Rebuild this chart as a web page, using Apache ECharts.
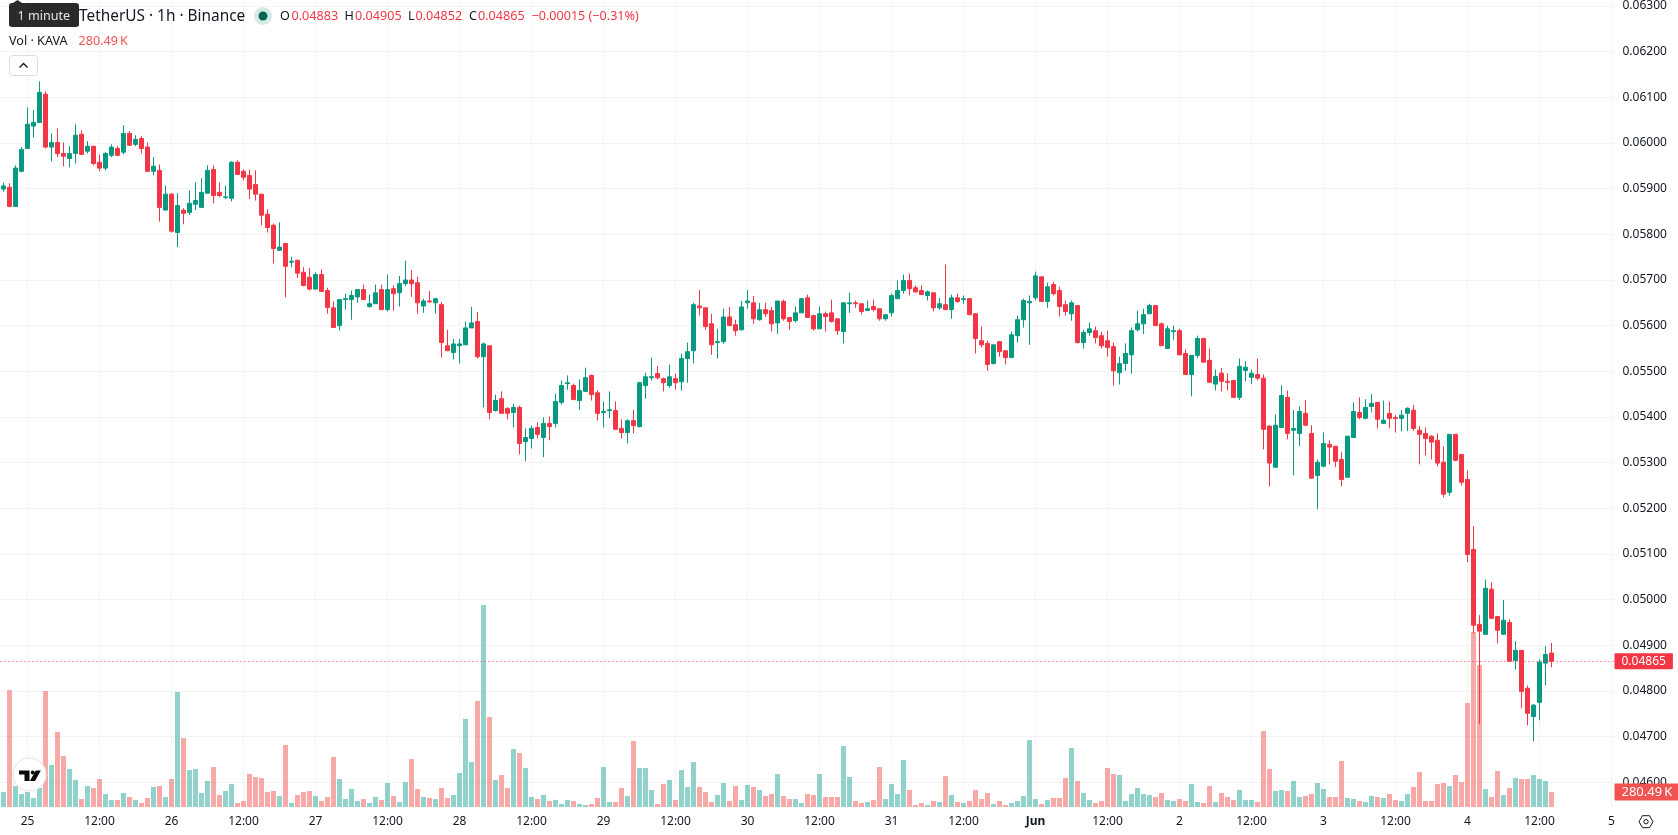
<!DOCTYPE html>
<html>
<head>
<meta charset="utf-8">
<title>KAVA / TetherUS 1h</title>
<style>
html,body{margin:0;padding:0;background:#fff;}
#chart{width:1678px;height:835px;}
</style>
<script src="https://cdn.jsdelivr.net/npm/echarts@6/dist/echarts.min.js"></script>
</head>
<body>
<div id="chart"></div>
<script>
// Hourly prices, quoted in units of 0.00001 USDT.
const opens = [
5899,5903,5861,5938,5988,6037,6045,6107,5991,6001,
5977,5966,5977,6019,5982,5993,5958,5945,5973,5988,
5980,6021,5997,6010,5991,5938,5940,5853,5888,5804,
5853,5848,5866,5859,5890,5942,5892,5881,5879,5958,
5938,5929,5909,5888,5844,5820,5765,5780,5739,5743,
5717,5706,5680,5712,5677,5639,5600,5657,5657,5663,
5679,5642,5648,5679,5635,5681,5672,5692,5700,5694,
5643,5654,5650,5646,5556,5541,5556,5558,5595,5609,
5532,5556,5414,5440,5419,5410,5421,5346,5353,5377,
5355,5386,5386,5432,5473,5469,5436,5456,5491,5453,
5410,5414,5414,5375,5366,5392,5379,5469,5486,5495,
5484,5469,5484,5477,5528,5545,5643,5639,5604,5563,
5565,5619,5602,5591,5650,5650,5613,5635,5633,5606,
5653,5618,5611,5628,5661,5622,5593,5626,5628,5615,
5587,5648,5650,5648,5633,5642,5637,5615,5628,5659,
5677,5699,5683,5677,5666,5672,5639,5646,5635,5661,
5657,5659,5626,5567,5561,5517,5565,5545,5530,5578,
5613,5650,5661,5707,5653,5690,5677,5646,5626,5644,
5563,5585,5589,5578,5567,5554,5497,5517,5536,5591,
5604,5626,5644,5604,5550,5587,5589,5539,5493,5535,
5572,5524,5472,5496,5478,5480,5443,5502,5487,5493,
5485,5380,5290,5377,5443,5371,5364,5408,5364,5272,
5292,5340,5336,5307,5268,5355,5410,5397,5423,5432,
5386,5408,5399,5397,5408,5415,5371,5364,5358,5349,
5301,5235,5362,5318,5263,5110,4946,4924,5023,4963,
4924,4950,4867,4889,4806,4744,4775,4861,4883];
const highs = [
5913,5912,5951,5991,6078,6072,6135,6113,6021,6032,
6001,5993,6041,6028,6004,5993,5975,5980,5997,5993,
6039,6026,6017,6015,6001,5969,5953,5907,5890,5890,
5857,5896,5914,5923,5951,5951,5914,5907,5960,5962,
5942,5942,5940,5888,5855,5824,5826,5780,5751,5745,
5728,5726,5717,5723,5683,5653,5657,5670,5677,5679,
5690,5668,5690,5690,5712,5688,5709,5742,5722,5707,
5659,5676,5661,5652,5591,5571,5571,5609,5641,5630,
5563,5556,5449,5456,5421,5429,5425,5375,5381,5388,
5399,5401,5451,5480,5491,5473,5482,5508,5493,5458,
5434,5456,5434,5395,5395,5416,5477,5497,5530,5512,
5486,5515,5495,5539,5563,5650,5678,5639,5626,5593,
5637,5641,5613,5654,5678,5665,5650,5650,5641,5654,
5657,5618,5642,5661,5668,5624,5642,5631,5657,5615,
5650,5672,5655,5648,5655,5657,5637,5624,5670,5699,
5712,5714,5688,5688,5677,5672,5661,5734,5668,5670,
5666,5661,5626,5598,5567,5558,5565,5545,5587,5622,
5659,5666,5718,5707,5694,5696,5685,5655,5655,5644,
5591,5607,5598,5587,5589,5563,5532,5561,5596,5633,
5637,5648,5644,5607,5600,5600,5593,5548,5535,5578,
5572,5550,5504,5507,5496,5480,5528,5522,5504,5528,
5493,5382,5406,5469,5458,5415,5423,5437,5382,5307,
5366,5349,5336,5323,5358,5432,5443,5439,5450,5432,
5436,5434,5404,5415,5421,5426,5380,5377,5360,5364,
5336,5362,5362,5318,5283,5161,4966,5044,5038,4963,
4999,4957,4909,4889,4812,4771,4869,4898,4905];
const lows = [
5893,5861,5861,5936,5988,6012,6045,5988,5960,5969,
5949,5947,5955,5975,5977,5951,5938,5940,5969,5971,
5975,5995,5993,5977,5936,5929,5828,5853,5804,5772,
5822,5842,5853,5859,5890,5868,5881,5877,5872,5931,
5918,5877,5874,5820,5804,5736,5765,5662,5728,5704,
5686,5677,5680,5675,5626,5596,5589,5635,5613,5650,
5657,5639,5648,5635,5631,5633,5642,5687,5663,5626,
5628,5650,5626,5530,5545,5526,5517,5558,5595,5528,
5421,5395,5412,5408,5395,5377,5318,5303,5331,5353,
5312,5349,5377,5427,5460,5438,5416,5456,5436,5392,
5377,5397,5373,5353,5342,5364,5377,5440,5480,5482,
5456,5464,5460,5458,5475,5517,5622,5591,5536,5528,
5560,5600,5578,5589,5637,5604,5611,5619,5587,5582,
5611,5591,5607,5628,5618,5589,5593,5587,5607,5580,
5561,5628,5639,5624,5633,5631,5611,5611,5620,5659,
5670,5666,5672,5668,5655,5631,5635,5635,5615,5650,
5648,5624,5539,5552,5501,5515,5532,5515,5530,5563,
5596,5558,5655,5653,5639,5666,5620,5622,5611,5561,
5550,5578,5561,5550,5532,5469,5471,5501,5495,5587,
5582,5626,5600,5556,5550,5569,5536,5493,5445,5529,
5520,5476,5458,5456,5458,5443,5437,5478,5472,5480,
5329,5248,5290,5377,5351,5272,5336,5380,5266,5198,
5292,5296,5290,5248,5268,5355,5395,5395,5410,5375,
5386,5375,5366,5369,5369,5369,5296,5316,5307,5292,
5224,5228,5303,5250,5082,4926,4727,4924,4959,4904,
4924,4865,4847,4762,4725,4690,4736,4812,4852];
const closes = [
5906,5861,5945,5986,6041,6045,6111,5991,6001,5977,
5971,5977,6017,5975,5993,5955,5945,5977,5991,5973,
6021,5995,6008,5988,5938,5949,5859,5888,5807,5863,
5846,5868,5874,5892,5940,5885,5885,5882,5958,5931,
5925,5899,5888,5842,5815,5769,5772,5730,5741,5715,
5688,5680,5712,5675,5640,5596,5657,5659,5666,5679,
5657,5648,5672,5635,5679,5670,5692,5700,5692,5650,
5654,5652,5659,5563,5545,5560,5560,5595,5606,5532,
5560,5410,5436,5408,5408,5421,5342,5355,5375,5362,
5386,5379,5434,5469,5475,5438,5458,5486,5449,5408,
5412,5416,5373,5366,5392,5381,5475,5488,5488,5486,
5475,5488,5475,5528,5543,5646,5639,5598,5558,5565,
5619,5600,5589,5641,5654,5615,5635,5626,5604,5654,
5615,5609,5628,5659,5618,5593,5626,5620,5609,5589,
5650,5650,5648,5631,5637,5635,5615,5624,5666,5677,
5699,5681,5674,5668,5674,5639,5648,5635,5661,5653,
5659,5624,5572,5558,5515,5558,5543,5530,5580,5613,
5655,5653,5709,5653,5685,5670,5642,5631,5650,5563,
5585,5593,5574,5556,5552,5501,5517,5539,5589,5604,
5624,5644,5600,5556,5593,5589,5536,5493,5535,5572,
5520,5476,5489,5478,5476,5443,5511,5509,5496,5485,
5373,5299,5382,5447,5364,5375,5412,5382,5266,5301,
5342,5334,5303,5263,5358,5412,5399,5421,5430,5395,
5393,5397,5397,5404,5419,5375,5362,5353,5345,5299,
5231,5362,5305,5257,5099,4944,4931,5025,4959,4933,
4955,4865,4889,4799,4751,4769,4863,4880,4865];
// Hourly traded volume in thousands of KAVA.
const volumes = [
280,2188,393,243,280,168,355,2169,785,1402,
954,711,505,150,393,355,524,243,131,131,
262,187,131,75,168,374,393,187,524,2150,
1290,692,711,262,486,748,224,299,430,75,
112,617,561,542,280,299,206,1159,75,224,
280,299,206,112,187,935,524,150,337,112,
150,75,187,131,449,206,93,467,898,337,
187,168,150,355,168,224,636,1646,841,1982,
3777,1683,505,598,355,1085,1010,729,187,150,
224,112,131,56,131,112,56,37,56,168,
748,93,93,355,206,1234,729,729,318,56,
430,505,131,692,374,841,374,280,93,224,
449,112,393,131,411,374,318,206,243,617,
206,150,150,75,243,224,617,187,187,187,
1141,561,112,75,93,131,748,150,430,243,
879,318,37,75,37,112,93,580,224,93,
75,112,318,150,262,56,112,37,75,112,
206,1253,150,56,131,168,168,542,1103,486,
262,131,75,112,729,617,598,112,243,355,
243,224,187,262,131,112,150,112,430,93,
75,393,93,262,187,131,318,131,131,93,
1421,711,299,318,299,486,187,206,243,449,
337,187,187,860,168,150,112,93,206,187,
168,243,131,112,243,374,654,112,112,430,
449,393,598,467,1945,3272,2655,337,187,673,
224,355,542,524,524,598,524,486,280.49];
// Time-axis labels, one per midnight from 25 May to 5 June.
const dayLabels = ['25','26','27','28','29','30','31','Jun','2','3','4','5'];
const noonLabel = '12:00';
const firstMidnight = 4;
const slotCount = 269;
const lastPrice = 0.04865;
const lastVolume = 280.49;

const UP = '#089981', DOWN = '#F23645';
const VOL_UP = 'rgba(38,166,154,0.5)', VOL_DOWN = 'rgba(239,83,80,0.5)';
const GRID = '#f2f3f3', INK = '#131722', FONT = '"Noto Sans", sans-serif';

const categories = [];
for (let k = 0; k < slotCount; k++) {
  const h = k - firstMidnight;
  if (h >= 0 && h % 24 === 0) categories.push(dayLabels[h / 24]);
  else if (h >= 0 && h % 24 === 12) categories.push(noonLabel);
  else categories.push('');
}
const labelled = (i, v) => v !== '';
const price = v => v / 100000;
const candleData = opens.map((o, i) => [price(o), price(closes[i]), price(lows[i]), price(highs[i])]);
const volumeData = volumes.map((v, i) => ({
  value: v,
  itemStyle: { color: closes[i] >= opens[i] ? VOL_UP : VOL_DOWN }
}));

const txt = (text, x, y, fill, size, extra) => Object.assign({
  type: 'text', z: 100, silent: true,
  style: { text, x, y, fill, font: `${size || 12.6}px ${FONT}`, verticalAlign: 'middle', align: 'left' }
}, extra || {});
const HEAD_Y = 16.8, VOL_Y = 41.2;

const overlay = [
  // hint bubble over the symbol title
  { type: 'polygon', z: 100, shape: { points: [[13, 3], [17.5, 0], [22, 3]] }, style: { fill: '#2a2a2a' } },
  { type: 'rect', z: 100, shape: { x: 9, y: 3, width: 70, height: 24, r: 3 }, style: { fill: '#2a2a2a' } },
  txt('1 minute', 17.5, 16.2, '#e6e6e6', 12.6),
  txt('TetherUS · 1h · Binance', 79, HEAD_Y, INK, 15.4),
  { type: 'circle', z: 100, shape: { cx: 263, cy: 16, r: 9 }, style: { fill: '#d5ebe6' } },
  { type: 'circle', z: 100, shape: { cx: 263, cy: 16, r: 4.5 }, style: { fill: '#056656' } },
  txt('O', 280, HEAD_Y, INK), txt('0.04883', 291.5, HEAD_Y, DOWN),
  txt('H', 344.5, HEAD_Y, INK), txt('0.04905', 355, HEAD_Y, DOWN),
  txt('L', 408, HEAD_Y, INK), txt('0.04852', 415.5, HEAD_Y, DOWN),
  txt('C', 469, HEAD_Y, INK), txt('0.04865', 478, HEAD_Y, DOWN),
  txt('\u22120.00015 (\u22120.31%)', 531.5, HEAD_Y, DOWN),
  txt('Vol · KAVA', 9, VOL_Y, INK),
  txt('280.49\u202fK', 78.5, VOL_Y, '#ef5350'),
  // collapse button
  { type: 'rect', z: 100, shape: { x: 9.5, y: 55.5, width: 28, height: 20, r: 3 },
    style: { fill: '#fff', stroke: '#dcdcdc', lineWidth: 1 } },
  { type: 'polyline', z: 100, shape: { points: [[19.5, 67.5], [23.5, 63.5], [27.5, 67.5]] },
    style: { fill: 'none', stroke: INK, lineWidth: 1.4 } },
  // watermark badge
  { type: 'circle', z: 100, shape: { cx: 29.5, cy: 774.5, r: 16.5 },
    style: { fill: '#fff', stroke: '#e6e6e6', lineWidth: 1.2 } },
  { type: 'polygon', z: 101, shape: { points: [[19, 770.5], [29.5, 770.5], [29.5, 781], [24.5, 781], [24.5, 774.5], [19, 774.5]] },
    style: { fill: '#0b0b0b' } },
  { type: 'circle', z: 101, shape: { cx: 32.7, cy: 772.5, r: 2 }, style: { fill: '#0b0b0b' } },
  { type: 'polygon', z: 101, shape: { points: [[35.8, 770.5], [40.8, 770.5], [35, 781], [29.8, 781]] },
    style: { fill: '#0b0b0b' } },
  // chart settings icon
  { type: 'polygon', z: 100, shape: { points: [[1639, 821.7], [1642.5, 815.7], [1649.5, 815.7], [1653, 821.7], [1649.5, 827.7], [1642.5, 827.7]] },
    style: { fill: 'none', stroke: INK, lineWidth: 1 } },
  { type: 'circle', z: 100, shape: { cx: 1646, cy: 821.7, r: 2.2 }, style: { fill: 'none', stroke: INK, lineWidth: 1 } }
];

const chart = echarts.init(document.getElementById('chart'), null, { renderer: 'canvas' });
chart.setOption({
  animation: false,
  backgroundColor: '#ffffff',
  textStyle: { fontFamily: FONT },
  graphic: overlay,
  grid: [
    { left: 0.5, width: 1614, top: 5.6, height: 776.7 },
    { left: 0.5, width: 1614, top: 0, height: 807 }
  ],
  xAxis: [
    { type: 'category', gridIndex: 0, data: categories, show: false },
    {
      type: 'category', gridIndex: 1, data: categories,
      axisLine: { show: false }, axisTick: { show: false },
      axisLabel: {
        interval: labelled, color: INK, fontSize: 12, margin: 9, fontFamily: FONT,
        formatter: v => v === 'Jun' ? '{b|Jun}' : v,
        rich: { b: { fontWeight: 700, fontSize: 12, color: INK, fontFamily: FONT } }
      },
      splitLine: { show: true, interval: labelled, alignWithLabel: true, lineStyle: { color: GRID, width: 1 } }
    }
  ],
  yAxis: [
    {
      type: 'value', gridIndex: 0, position: 'right', min: 0.046, max: 0.063, interval: 0.001,
      axisLine: { show: false }, axisTick: { show: false },
      axisLabel: { color: INK, fontSize: 12, margin: 8, fontFamily: FONT, formatter: v => v.toFixed(5) },
      splitLine: { show: true, lineStyle: { color: GRID, width: 1 } }
    },
    { type: 'value', gridIndex: 1, min: 0, max: 15090, show: false, splitLine: { show: false } }
  ],
  series: [
    {
      type: 'bar', name: 'Vol', xAxisIndex: 1, yAxisIndex: 1, barWidth: 5, silent: true, z: 2,
      data: volumeData,
      markLine: {
        silent: true, symbol: 'none', animation: false, precision: 2,
        lineStyle: { color: 'rgba(0,0,0,0)', width: 1 },
        label: {
          show: true, position: 'end', distance: 0, formatter: '280.49\u202fK', color: '#fff',
          backgroundColor: '#f05350', padding: [2, 6, 2, 7], fontSize: 13, fontFamily: FONT, borderRadius: 1
        },
        data: [{ yAxis: lastVolume }]
      }
    },
    {
      type: 'candlestick', name: 'KAVAUSDT', xAxisIndex: 0, yAxisIndex: 0, barWidth: 4, silent: true, z: 3,
      data: candleData,
      itemStyle: { color: UP, color0: DOWN, borderColor: UP, borderColor0: DOWN, borderWidth: 1 },
      markLine: {
        silent: true, symbol: 'none', animation: false, precision: 5,
        lineStyle: { color: DOWN, type: [1, 3], width: 1 },
        label: {
          show: true, position: 'end', distance: 0, formatter: v => Number(v.value).toFixed(5), color: '#fff',
          backgroundColor: DOWN, padding: [2, 7, 2, 7], fontSize: 12, fontFamily: FONT, borderRadius: 1
        },
        data: [{ yAxis: lastPrice }]
      }
    }
  ]
});
</script>
</body>
</html>
